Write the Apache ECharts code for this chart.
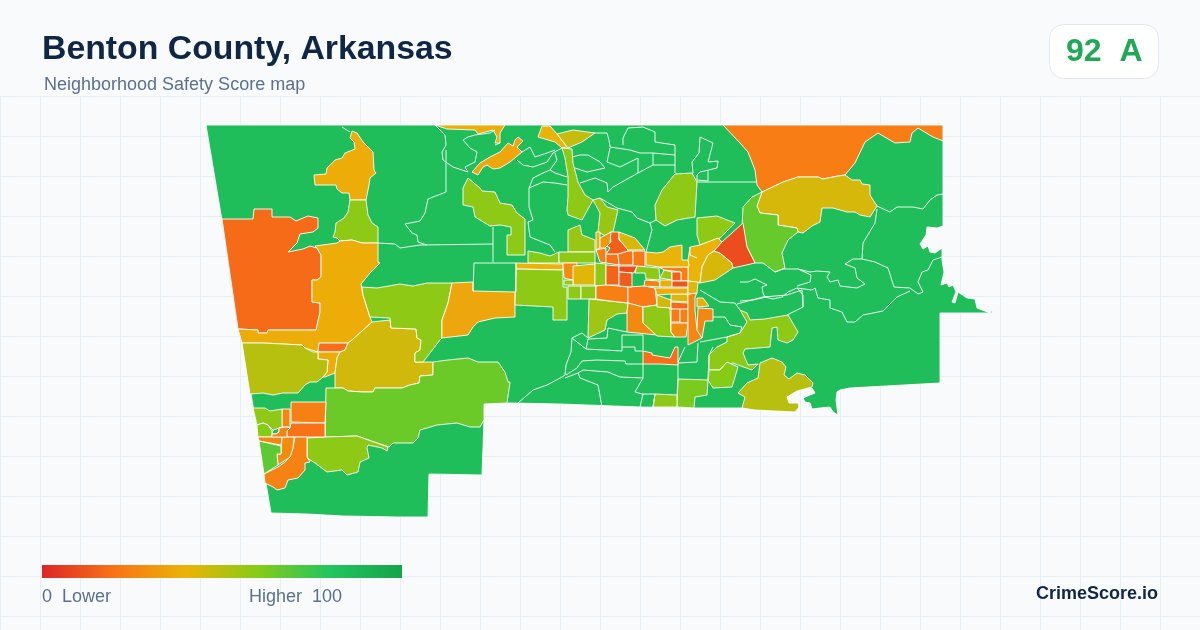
<!DOCTYPE html>
<html>
<head>
    <meta charset="UTF-8">
    <title>Benton County, Arkansas</title>
    <script src="https://cdn.jsdelivr.net/npm/echarts@6/dist/echarts.min.js"></script>
    <style>
        html, body { margin: 0; padding: 0; background: #f8fafc; }
        #wrap {
            width: 1200px; height: 630px; overflow: hidden;
            background-color: #f8fafc;
            background-image:
                linear-gradient(#e8eef5 1px, transparent 1px),
                linear-gradient(90deg, #e8eef5 1px, transparent 1px);
            background-size: 40px 40px;
            background-position: 0 96px;
            background-repeat: repeat;
        }
        #mask { position: absolute; left: 0; top: 0; width: 1200px; height: 96px; background: #f8fafc; }
        #map { position: absolute; left: 0; top: 0; width: 1200px; height: 630px; }
    </style>
</head>
<body>
<div id="wrap"></div>
<div id="mask"></div>
<div id="map"></div>
<script type="text/javascript">
// colour ramp of the score, 0 to 100
var rampColors = ['#dc2626', '#f97316', '#eab308', '#84cc16', '#22c55e', '#16a34a'];

// tract outlines, "x,y" in picture units, y down
var tractShapes = [
    // whole county
    '206,125 943,125 943,226 937,228 927,227 926,235 920,244 923,249 928,246 930,252 935,253 942,248 942,260 944,272 941,285 947,283 949,287 953,285 956,292 952,302 955,303 958,292 967,298 975,299 977,308 990,313 993,309 992,313 940,313 940,383 850,388 840,390 837,392 836,400 838,415 833,412 830,407 820,408 812,409 810,403 805,402 803,398 810,395 815,393 812,388 802,390 792,393 787,397 789,403 798,403 799,407 795,412 755,410 742,408 690,408 640,407 560,404 510,403 484,404 484,420 482,475 429,474 428,517 397,517 343,516 307,514 271,513',
    // west side
    '352,131 357,133 363,142 373,152 374,170 376,173 370,178 369,185 366,200 350,200 349,193 342,193 337,189 336,185 315,185 314,175 326,174 327,168 335,160 342,158 345,153 355,149 354,142 350,138',
    '350,200 366,200 368,215 372,223 378,227 378,243 362,243 352,240 340,241 337,238 333,237 335,232 336,223 344,218 348,212',
    '222,219 253,219 254,209 272,209 272,217 290,217 296,221 308,216 318,218 318,228 313,232 300,234 297,243 288,252 303,249 310,246 317,248 321,255 321,277 317,280 312,280 312,302 320,303 320,312 316,330 268,330 267,333 258,333 258,330 238,329',
    '315,246 337,243 340,241 352,240 362,243 378,243 378,262 380,263 370,273 361,284 363,295 370,317 372,322 352,340 348,343 319,343 318,352 305,348 302,345 263,343 242,343 238,329 258,330 258,333 267,333 268,330 316,330 320,312 320,303 312,302 312,280 317,280 321,277 321,255 317,248',
    '319,343 348,343 345,350 340,352 318,352',
    '318,352 340,352 337,358 335,373 325,377 323,377 327,372 328,360 318,359',
    '242,343 263,343 302,345 305,348 313,352 318,352 318,359 328,360 327,372 323,377 317,382 310,382 305,385 298,393 283,393 273,395 263,393 250,394',
    '372,322 390,320 391,328 416,329 417,338 421,340 420,350 415,353 415,362 433,362 433,375 420,376 419,383 410,385 402,388 375,388 373,392 362,392 348,391 343,388 335,388 335,373 337,358 340,352 345,350 348,343 352,340',
    '362,287 377,288 400,284 413,286 427,283 452,283 448,303 442,320 442,338 440,340 423,362 415,362 415,353 420,350 421,340 417,338 416,329 391,328 390,318 370,317 363,295',
    '452,283 473,282 473,291 515,292 515,317 495,318 478,322 473,327 468,335 442,338 442,320 448,303',
    '326,388 335,388 343,388 348,391 362,392 373,392 375,388 402,388 410,385 419,383 420,376 433,375 433,362 448,360 468,358 478,362 498,362 505,372 508,382 510,382 507,403 484,404 484,420 480,427 470,427 457,423 447,424 437,425 420,430 418,438 413,443 393,443 389,447 357,436 327,437 325,437',
    '307,438 325,437 357,436 388,447 387,451 382,448 368,445 367,448 369,458 360,462 358,472 347,475 342,470 327,472 315,463 307,458',
    // south-west corner
    '291,402 326,402 325,423 291,422',
    '291,423 325,423 325,437 287,437 287,431 290,428',
    '282,409 290,409 290,427 282,427',
    '295,437 307,437 307,457 310,462 305,463 305,470 298,478 288,480 285,488 277,490 273,487 265,483 264,474 278,467 285,462 290,457 293,448',
    '282,437 294,437 293,448 290,457 278,465 277,454 281,454',
    '253,408 265,408 270,411 282,409 282,427 279,428 273,430 268,425 263,423 257,425',
    '257,425 263,423 268,425 272,431 272,437 258,437',
    '258,437 282,437 281,445 259,441',
    '259,441 281,446 281,454 277,454 278,465 264,474',
    '272,434 276,434 279,432 279,428 287,427 290,428 287,431 287,437 272,437',
    // north edge
    '435,125 505,125 500,133 500,143 495,143 497,137 493,130 478,134 475,130 447,129',
    '472,172 480,163 490,157 500,152 508,143 513,146 515,140 518,137 523,141 517,147 522,152 510,162 500,168 493,169 487,165 483,167 478,175',
    '542,126 550,126 557,134 567,147 562,148 555,142 538,137',
    '557,134 573,130 595,133 582,142 568,148',
    '562,148 572,149 573,163 578,182 585,195 593,200 582,220 568,215 567,210 568,197 568,177 565,158',
    '468,178 480,188 482,191 495,192 500,203 512,205 517,213 525,219 525,255 507,255 507,235 511,235 511,227 500,225 490,226 475,217 473,207 463,205 463,188',
    '675,174 692,173 697,182 695,217 677,220 665,226 656,220 655,205 662,190',
    '593,200 600,198 607,207 618,210 613,232 606,236 598,232 600,213',
    '568,230 580,225 582,235 595,240 595,252 568,252',
    // north-east
    '723,125 943,125 943,141 933,137 918,128 912,133 910,142 895,143 878,133 865,142 855,163 845,175 838,176 823,179 818,177 798,177 783,182 762,192 757,185 755,170 748,152 740,143',
    '762,192 783,182 798,177 818,177 823,179 838,176 845,175 852,180 860,180 862,184 870,185 870,195 877,206 870,217 860,215 855,212 847,212 833,208 822,208 820,222 812,226 803,233 798,232 797,228 778,225 778,215 760,213 757,206',
    '762,192 757,206 760,213 778,215 778,225 797,228 798,232 788,240 782,253 785,268 775,272 763,263 755,263 747,247 742,228 743,207 752,197',
    '697,218 717,216 735,223 720,238 700,245 697,235',
    '690,247 700,245 718,238 722,242 714,251 708,255 702,267 700,283 688,281 688,260',
    '714,251 720,253 732,263 733,268 715,280 700,283 702,267 708,255',
    '743,223 747,247 755,263 733,268 732,263 720,253 714,251 722,242 733,232',
    // city rows
    '528,251 540,253 550,256 559,252 559,263 528,263',
    '559,252 595,252 595,263 559,263',
    '516,263 563,264 563,270 516,269',
    '516,269 563,270 563,287 567,287 567,320 553,320 553,307 515,305',
    '563,263 577,263 577,278 572,280 564,278',
    '573,266 595,264 595,285 573,285',
    '564,280 573,280 573,285 564,285',
    '595,263 606,264 606,286 595,286',
    '568,286 581,286 581,299 568,299',
    '581,286 596,286 596,299 581,299',
    '589,299 610,301 628,303 627,313 617,314 607,320 605,330 588,338',
    '596,286 606,285 619,286 628,287 628,303 610,301 596,299',
    '628,287 644,286 655,288 657,305 643,307 628,303',
    '628,303 643,307 643,323 657,335 627,332 627,313',
    '643,307 657,305 670,308 671,332 675,337 657,336 643,323',
    '657,295 671,300 671,308 657,307',
    '671,294 688,294 688,302 671,301',
    '671,302 688,303 688,310 671,309',
    '671,309 680,309 680,322 671,322',
    '680,309 688,309 688,323 680,323',
    '671,323 688,323 686,337 675,337 671,332',
    '688,294 697,293 695,297 695,310 697,330 702,338 688,345 688,323',
    '697,298 703,298 709,306 697,307',
    '698,308 713,309 713,321 705,321 702,338 697,330',
    // city centre
    '596,250 606,248 606,263 600,262',
    '606,254 618,254 619,265 606,263',
    '618,254 628,251 633,251 633,265 619,265',
    '633,251 645,251 645,267 633,266',
    '610,232 619,232 619,240 628,248 628,251 618,254 606,254 610,248 605,245 611,242',
    '596,232 600,232 600,248 596,250',
    '600,238 611,232 610,243 605,248 600,248',
    '619,232 627,235 635,238 645,250 628,250 619,239',
    '606,265 619,266 619,285 606,285',
    '619,266 637,266 634,273 619,272',
    '619,272 632,273 632,287 619,286',
    '637,266 659,268 660,280 646,279 645,273 635,273',
    '645,280 659,281 660,287 644,286',
    '660,278 664,270 672,272 672,280',
    '660,280 672,280 672,287 660,287',
    '659,267 688,267 688,281 681,281 681,272 664,270',
    '672,272 681,272 681,281 672,281',
    '672,281 688,281 688,287 672,287',
    '646,252 657,253 663,252 670,247 682,245 682,260 688,260 689,265 688,267 659,267 646,265',
    '655,288 688,288 688,294 671,294 657,295',
    '688,281 698,282 697,293 688,294',
    // south of the city
    '643,351 652,353 652,355 670,358 675,347 678,347 678,365 660,364 643,364',
    '740,310 747,313 750,320 765,319 788,315 798,332 793,340 787,343 778,340 777,327 772,328 770,347 745,349 743,353 748,365 758,364 752,370 738,365 733,363 722,367 720,370 709,370 709,355 717,347 727,342 727,337 740,333 747,322',
    '709,370 720,370 727,362 738,367 732,387 713,388 708,380',
    '760,363 772,358 782,362 786,367 784,375 789,379 797,373 805,375 813,383 812,387 797,391 787,397 789,403 798,403 799,407 795,412 755,410 742,408 745,397 738,393 747,383 758,378',
    '678,379 708,380 707,395 695,397 694,408 677,407',
    '655,394 677,395 677,407 653,407'
];

// score of each tract, same order as tractShapes
var tractScores = [
    84,
    38, 58, 18, 38, 19, 38, 50, 45, 58, 36, 65, 58,
    24, 20, 26, 25, 28, 58, 60, 26, 68, 25,
    38, 36, 40, 47, 58, 58, 58, 56, 56,
    23, 44, 66, 58, 40, 44, 10,
    60, 58, 40, 58, 28, 42, 55, 58, 58, 58, 55, 24, 22, 27, 58, 45, 42, 18, 22, 24, 28, 26, 38, 26,
    24, 20, 20, 22, 15, 40, 32, 44, 16, 10, 14, 58, 25, 55, 38, 24, 15, 12, 40, 38, 42,
    19, 58, 60, 50, 62, 58
];

// white borders between neighbouring tracts of the same colour
var borderTraces = [
    '342,127 350,132',
    '435,125 445,135 446,145 442,152 443,160 453,167 468,172',
    '446,150 446,192 428,199 425,213 420,221 405,224 412,233 417,235 418,242 427,245',
    '378,243 395,244 400,248 420,245 493,244 493,262',
    '493,227 493,244',
    '474,263 516,263 516,292',
    '474,263 473,291',
    '463,140 468,137 475,135 490,133 495,130',
    '463,140 470,148 477,152 475,162 465,167 468,172',
    '495,145 500,143',
    '517,160 523,165 533,167 547,162 553,153 562,148',
    '522,152 530,147 535,157 547,153 555,150',
    '550,170 557,160 555,153',
    '550,170 555,173 567,177',
    '533,178 543,173 550,170',
    '529,188 533,178',
    '529,188 543,182 555,183 567,185',
    '529,188 529,207 533,220 528,222 530,237 550,245 555,252',
    '572,157 580,155 588,155 600,162 605,168 587,172 575,168',
    '595,133 607,133 609,140 610,147 630,150 640,153 653,153 675,155 675,173',
    '623,145 623,138 628,128 643,127 655,132 655,142 675,145 675,155',
    '610,148 607,162 620,167 638,158 638,173 613,187 608,192 607,183 595,178 580,183',
    '653,153 653,165 638,173',
    '675,165 653,165',
    '600,198 617,208 632,212 637,218 650,223 656,220',
    '650,223 652,230 646,252',
    '692,162 699,153 700,137 713,143 708,162 718,161 717,168 700,172 697,175 697,180 708,181 708,170',
    '692,162 693,173',
    '697,182 756,182',
    '690,247 690,255 697,258',
    '877,206 890,212 897,207 913,207 923,209 930,200 937,195 943,194',
    '877,209 875,223 863,243 862,259',
    '862,259 853,259 845,264 855,268 857,278 865,284 857,288 840,286 838,280 830,282 827,277 830,272 817,271 810,272 798,269 783,269 775,272',
    '862,259 875,262 888,268 894,287 910,288 918,294 923,292 918,282 922,272 928,270 933,260 942,257',
    '910,291 897,297 883,311 863,315 855,322 847,322 842,312 830,308 830,300 818,298 815,288 812,290 797,288 803,295 803,307 787,315',
    '797,286 810,282 811,275 798,269',
    '797,288 788,292 782,297 773,299 765,297 763,293 762,287 767,285 755,279 748,282 740,282',
    '766,297 753,300 740,301',
    '700,290 720,302 735,303 740,310',
    '737,304 763,297 787,295 802,290 803,307',
    '713,317 725,317 730,325 742,327 740,333 727,337',
    '700,342 727,337',
    '698,343 697,362 678,363',
    '713,347 709,355 708,380',
    '685,347 678,362',
    '643,335 643,350',
    '643,364 643,378 635,392 642,394 655,394',
    '678,364 678,379',
    '677,395 678,379',
    '627,332 608,328 607,338 588,339 586,349 622,351 622,335 643,335',
    '622,347 635,347 635,351 643,351',
    '586,349 572,338 582,333 588,338',
    '572,338 571,352 566,365 565,375 562,377 547,385 533,390 525,397 518,403',
    '566,375 577,368 582,361 597,360 625,361 626,364 643,364',
    '565,378 578,373 583,370 608,372 620,377 643,378',
    '578,373 580,378 598,385 602,407',
    '643,394 640,407',
    '655,394 653,407'
];

// hole in the county near the west edge
var lakeSpeck = '273,430 279,428 279,432 276,434 272,434';

function parseTrace(str) {
    return str.split(' ').map(function (p) {
        var xy = p.split(',');
        return [+xy[0], -xy[1]];
    });
}

var features = tractShapes.map(function (shape, i) {
    var rings = [parseTrace(shape)];
    if (i === 0) rings.push(parseTrace(lakeSpeck));
    return {
        type: 'Feature',
        properties: { name: 'tract' + i },
        geometry: { type: 'Polygon', coordinates: rings }
    };
});
echarts.registerMap('benton', { type: 'FeatureCollection', features: features });

var chart = echarts.init(document.getElementById('map'), null, { renderer: 'canvas' });

// square legend bar, same stops as the visualMap
var legendStops = rampColors.map(function (c, i) {
    return { offset: i / (rampColors.length - 1), color: c };
});

var option = {
    backgroundColor: 'transparent',
    animation: false,
    geo: {
        map: 'benton',
        roam: false,
        silent: true,
        aspectScale: 1,
        boundingCoords: [[0, 0], [1200, -630]],
        left: 0,
        top: 0,
        width: 1200,
        height: 630,
        itemStyle: { borderColor: '#ffffff', borderWidth: 0.9 },
        label: { show: false },
        emphasis: { disabled: true }
    },
    visualMap: {
        type: 'continuous',
        show: false,
        min: 0,
        max: 100,
        seriesIndex: 0,
        inRange: { color: rampColors }
    },
    series: [
        {
            type: 'map',
            geoIndex: 0,
            silent: true,
            data: tractScores.map(function (v, i) {
                return { name: 'tract' + i, value: v };
            })
        },
        {
            type: 'lines',
            coordinateSystem: 'geo',
            polyline: true,
            silent: true,
            z: 5,
            lineStyle: { color: '#ffffff', width: 0.9, opacity: 1, curveness: 0 },
            data: borderTraces.map(function (t) {
                return { coords: parseTrace(t) };
            })
        }
    ],
    graphic: [
        { type: 'text', left: 42, top: 33, style: { text: 'Benton County, Arkansas', fontFamily: 'Liberation Sans', fontWeight: 'bold', fontSize: 33.8, fill: '#0f2744' } },
        { type: 'text', left: 44, top: 76, style: { text: 'Neighborhood Safety Score map', fontFamily: 'Liberation Sans', fontSize: 18, fill: '#5b7090' } },
        { type: 'rect', shape: { x: 1049.5, y: 24.5, width: 109, height: 54, r: 14 }, style: { fill: '#ffffff', stroke: '#e2e8f0', lineWidth: 1 } },
        { type: 'text', left: 1066, top: 36, style: { text: '92  A', fontFamily: 'Liberation Sans', fontWeight: 'bold', fontSize: 32, fill: '#1fa855' } },
        { type: 'rect', shape: { x: 42, y: 565, width: 360, height: 13 }, style: { fill: new echarts.graphic.LinearGradient(0, 0, 1, 0, legendStops) } },
        { type: 'text', left: 42, top: 588, style: { text: '0  Lower', fontFamily: 'Liberation Sans', fontSize: 18, fill: '#5b7090' } },
        { type: 'text', left: 249, top: 588, style: { text: 'Higher  100', fontFamily: 'Liberation Sans', fontSize: 18, fill: '#5b7090' } },
        { type: 'text', left: 1036, top: 585, style: { text: 'CrimeScore.io', fontFamily: 'Liberation Sans', fontWeight: 'bold', fontSize: 18, fill: '#0f2744' } }
    ]
};

chart.setOption(option);
</script>
</body>
</html>
